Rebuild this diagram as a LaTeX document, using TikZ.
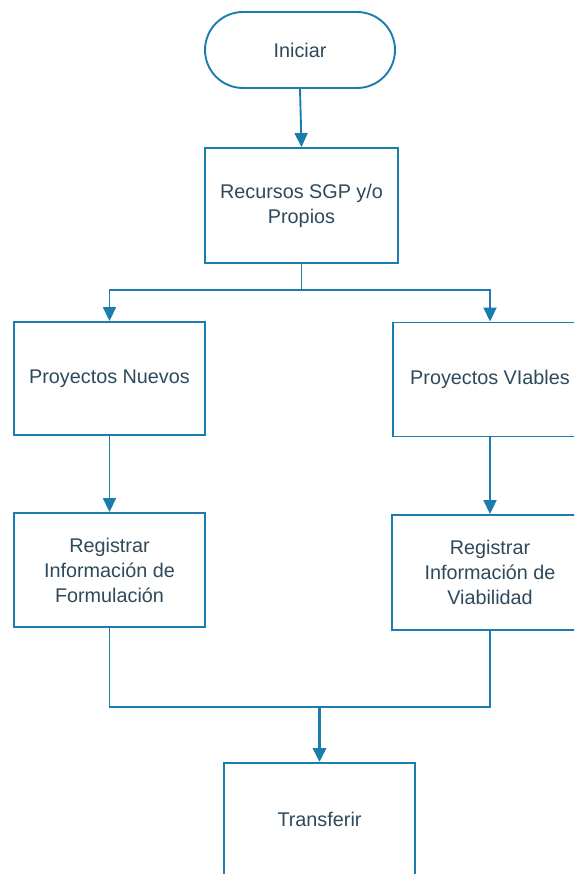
\documentclass[tikz,border=0pt]{standalone}
\usepackage{xcolor}
\usepackage{fontspec}
\setmainfont{Liberation Sans}
\usetikzlibrary{arrows.meta}
\definecolor{linea}{HTML}{1A7DAE}
\definecolor{texto}{HTML}{2E4A5A}

\begin{document}
\begin{tikzpicture}[x=1pt,y=-1pt,
    caja/.style={draw=linea,line width=1.9pt,fill=white,text=texto,align=center,
      font=\fontsize{19.8}{25}\selectfont,inner sep=2pt},
    flecha/.style={draw=linea,line width=1.9pt,-{Triangle[length=14pt,width=13pt]}},
    union/.style={draw=linea,line width=1.9pt}]
  \useasboundingbox (0,0) rectangle (574,874);
  \clip (0,0) rectangle (574,874);
  \node[caja,minimum width=190pt,minimum height=76pt,rounded corners=38pt](inicio) at (300,50){Iniciar};
  \node[caja,minimum width=193pt,minimum height=115pt](recursos) at (301.5,205.5){Recursos SGP y/o\\Propios};
  \node[caja,minimum width=191pt,minimum height=113pt](nuevos) at (109.5,378.5){Proyectos Nuevos};
  \node[caja,minimum width=194pt,minimum height=114pt](viables) at (490,379.5){Proyectos VIables};
  \node[caja,minimum width=191pt,minimum height=114pt](regform) at (109.5,570){Registrar\\Información de\\Formulación};
  \node[caja,minimum width=196pt,minimum height=115pt](regviab) at (490,572.5){Registrar\\Información de\\Viabilidad};
  \node[caja,minimum width=191pt,minimum height=112pt](transferir) at (319.5,819){Transferir};
  \coordinate (junta) at (319.5,707);

  \draw[flecha] (inicio.south) -- (recursos.north);
  \draw[flecha] (recursos.south) -- ++(0,26) -| (nuevos.north);
  \draw[flecha] (recursos.south) -- ++(0,26) -| (viables.north);
  \draw[flecha] (nuevos.south) -- (regform.north);
  \draw[flecha] (viables.south) -- (regviab.south |- regviab.north);
  \draw[union] (regform.south) |- (junta) -| (regviab.south);
  \draw[flecha,line width=3.4pt] (junta) -- (transferir.north);
\end{tikzpicture}
\end{document}
